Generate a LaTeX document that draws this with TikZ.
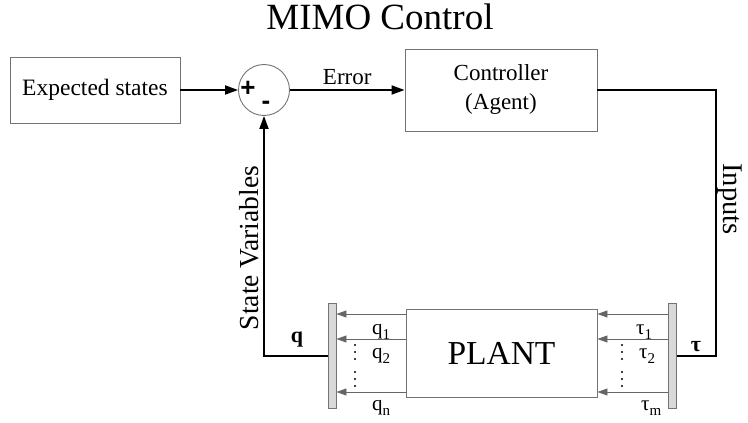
\documentclass[tikz,border=0pt]{standalone}
\usepackage{fontspec}
\setmainfont{Liberation Serif}
\newfontfamily\signfont{Liberation Sans}
\usetikzlibrary{arrows.meta,calc}
\newcommand\mysub[2]{#1\raisebox{-0.55ex}{\fontsize{15}{15}\selectfont #2}}
\begin{document}
\begin{tikzpicture}[x=1pt,y=-1pt,
  blk/.style={draw=black!55,line width=0.9pt,inner sep=0pt,align=center,font=\fontsize{23}{29}\selectfont},
  barbox/.style={draw=black!55,fill=black!15,line width=0.8pt,minimum width=8pt,minimum height=105pt,inner sep=0pt},
  mainline/.style={line width=1.8pt,black},
  marr/.style={mainline,-{Triangle[length=13pt,width=9pt]}},
  garr/.style={draw=black!60,line width=0.8pt,-{Triangle[length=10pt,width=7pt]}},
  lbl/.style={inner sep=0pt,font=\fontsize{23}{27}\selectfont},
  sublbl/.style={inner sep=0pt,font=\fontsize{21}{24}\selectfont,anchor=base west},
  dotm/.style={fill=black,circle,inner sep=0pt,minimum size=2.2pt}
]
\useasboundingbox (0,0) rectangle (748,423);
\node[inner sep=0pt,anchor=base,font=\fontsize{37}{40}\selectfont] (title) at (380,30) {MIMO Control};
\node[blk,minimum width=170pt,minimum height=66pt,font=\fontsize{23.5}{27}\selectfont] (exp) at (95,90) {Expected states};
\node[draw=black!55,line width=0.9pt,circle,minimum size=51pt,inner sep=0pt] (sum) at (264,90) {};
\node[inner sep=0pt,font=\signfont\fontsize{26}{26}\selectfont\bfseries] (plus) at (248,89) {+};
\node[inner sep=0pt,font=\signfont\fontsize{26}{26}\selectfont\bfseries] (minus) at (266,105) {-};
\node[blk,minimum width=192pt,minimum height=82pt] (ctrl) at (501,90) {Controller\\(Agent)};
\node[blk,minimum width=191pt,minimum height=88pt,font=\fontsize{33.5}{36}\selectfont] (plant) at (501.5,353) {PLANT};
\node[barbox] (lbar) at (332,355.5) {};
\node[barbox] (rbar) at (672.5,355.5) {};
\draw[marr] (exp.east) -- (sum.west);
\draw[marr] (sum.east) -- node[lbl,above=4pt] (err) {Error} (ctrl.west);
\coordinate (tr) at (716,90);
\coordinate (br) at (716,356);
\draw[mainline] (ctrl.east) -- (tr) -- (br) -- (rbar.east |- br);
\coordinate (bl) at (264,356);
\draw[marr] (lbar.west |- bl) -- (bl) -- (sum.south);
\foreach \yy in {314,339,392}{
  \draw[garr] (plant.west |- 0,\yy) -- (lbar.east |- 0,\yy);
  \draw[garr] (rbar.west |- 0,\yy) -- (plant.east |- 0,\yy);
}
\node[sublbl] (q1) at (372,334) {\mysub{q}{1}};
\node[sublbl] (q2) at (372,358) {\mysub{q}{2}};
\node[sublbl] (qn) at (372,410) {\mysub{q}{n}};
\node[sublbl] (t1) at (636,334) {\mysub{τ}{1}};
\node[sublbl] (t2) at (639,358) {\mysub{τ}{2}};
\node[sublbl] (tm) at (641,410) {\mysub{τ}{m}};
\foreach \yy in {345,352,359,372,379,386}{
  \node[dotm] at (355,\yy) {};
  \node[dotm] at (622,\yy) {};
}
\node[inner sep=0pt,font=\fontsize{22}{25}\selectfont\bfseries] (qb) at (297,340) {q};
\node[inner sep=0pt,font=\fontsize{22}{25}\selectfont\bfseries] (tb) at (696,347) {τ};
\node[inner sep=0pt,rotate=90,font=\fontsize{27.5}{30}\selectfont] (sv) at (249,248) {State Variables};
\node[inner sep=0pt,rotate=-90,anchor=base,font=\fontsize{28.5}{31}\selectfont] (inp) at (723.5,199) {Inputs};
\end{tikzpicture}
\end{document}
